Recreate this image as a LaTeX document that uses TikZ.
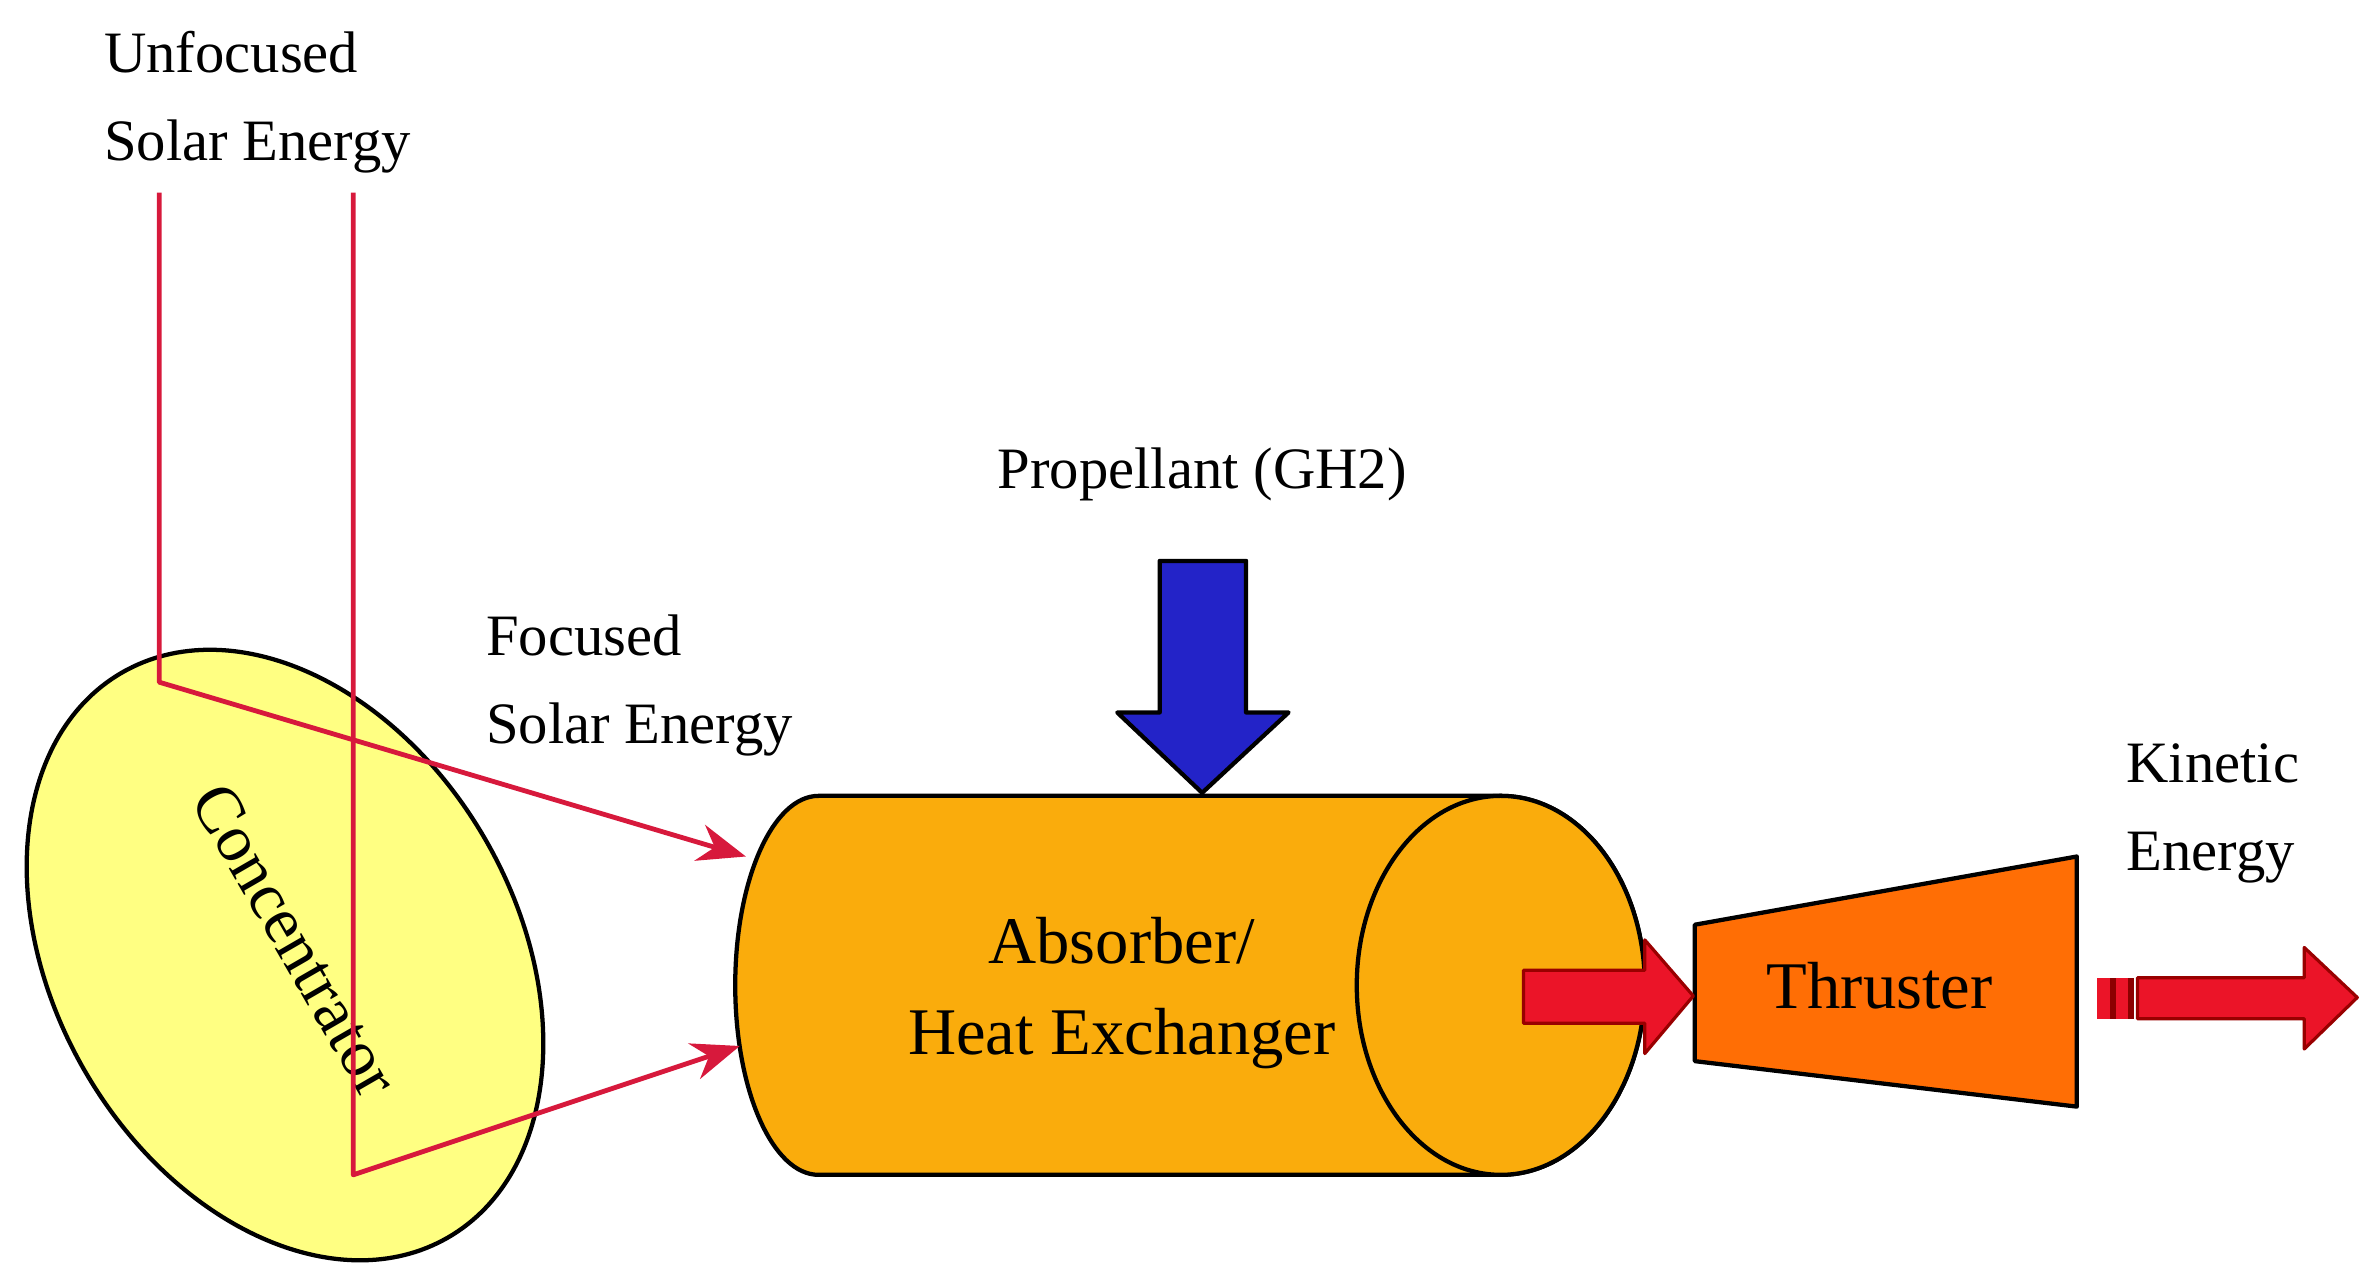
\documentclass[tikz,border=0pt]{standalone}
\usepackage{fontspec}
\setmainfont{Liberation Serif}
\usetikzlibrary{arrows.meta,shapes.geometric}
\definecolor{ray}{RGB}{215,25,60}
\definecolor{conc}{RGB}{255,255,130}
\definecolor{cyl}{RGB}{250,172,12}
\definecolor{thr}{RGB}{255,110,5}
\definecolor{prop}{RGB}{35,35,200}
\definecolor{flow}{RGB}{235,20,40}
\begin{document}
\begin{tikzpicture}[x=0.01cm,y=-0.01cm,
  lbl/.style={font=\fontsize{11}{16.5}\selectfont,align=left,inner sep=0},
  big/.style={font=\fontsize{12.5}{17}\selectfont},
  raypath/.style={ray,line width=0.9pt},
  tip/.style={-{Stealth[length=9pt,width=7pt]}},
  every path/.style={line join=round}]
\useasboundingbox (0,0) rectangle (1568,840);
% concentrator
\node[draw=black,line width=0.8pt,fill=conc,ellipse,minimum width=4.3cm,minimum height=3.05cm,rotate=-60] (conc) at (188,630) {};
\node[rotate=-60,big] (ctxt) at (195,620) {Concentrator};
% labels
\node[lbl,anchor=north west] (unf) at (68,20) {Unfocused\\Solar Energy};
\node[lbl,anchor=north west] (foc) at (320,405) {Focused\\Solar Energy};
\node[lbl,anchor=center] (proplbl) at (793,313) {Propellant (GH2)};
\node[lbl,anchor=north west] (kin) at (1402,490) {Kinetic\\Energy};
% cylinder
\fill[cyl,draw=black,line width=0.8pt] (990,525) -- (540,525) arc[start angle=270,end angle=90,x radius=55,y radius=125] -- (990,775) arc[start angle=90,end angle=-90,x radius=95,y radius=125];
\draw[black,line width=0.8pt,fill=cyl] (990,650) ellipse[x radius=95,y radius=125];
\node[lbl,align=center,big] (abs) at (740,655) {Absorber/\\Heat Exchanger};
\coordinate (in1) at (492,565);
\coordinate (in2) at (488,690);
% rays
\coordinate (r1a) at (105,127); \coordinate (r1b) at (105,450);
\coordinate (r2a) at (233,127); \coordinate (r2b) at (233,775);
\draw[raypath,tip] (r1a) -- (r1b) -- (in1);
\draw[raypath,tip] (r2a) -- (r2b) -- (in2);
% propellant arrow
\draw[fill=prop,draw=black,line width=0.8pt] (765,370) -- (822,370) -- (822,470) -- (850,470) -- (793,523) -- (737,470) -- (765,470) -- cycle;
% thruster
\draw[fill=thr,draw=black,line width=0.8pt] (1118,610) -- (1370,565) -- (1370,730) -- (1118,700) -- cycle;
\node[lbl,big] (thrust) at (1240,650) {Thruster};
% flow arrow
\draw[fill=flow,draw=red!60!black,line width=0.6pt] (1005,640) -- (1085,640) -- (1085,620) -- (1117,657) -- (1085,695) -- (1085,675) -- (1005,675) -- cycle;
% exhaust arrow
\fill[flow] (1383,645) rectangle (1392,672);
\fill[red!55!black] (1392,645) rectangle (1396,672);
\fill[flow] (1396,645) rectangle (1404,672);
\fill[red!55!black] (1404,645) rectangle (1408,672);
\draw[fill=flow,draw=red!60!black,line width=0.6pt] (1410,645) -- (1520,645) -- (1520,625) -- (1555,658) -- (1520,692) -- (1520,672) -- (1410,672) -- cycle;
\end{tikzpicture}
\end{document}
